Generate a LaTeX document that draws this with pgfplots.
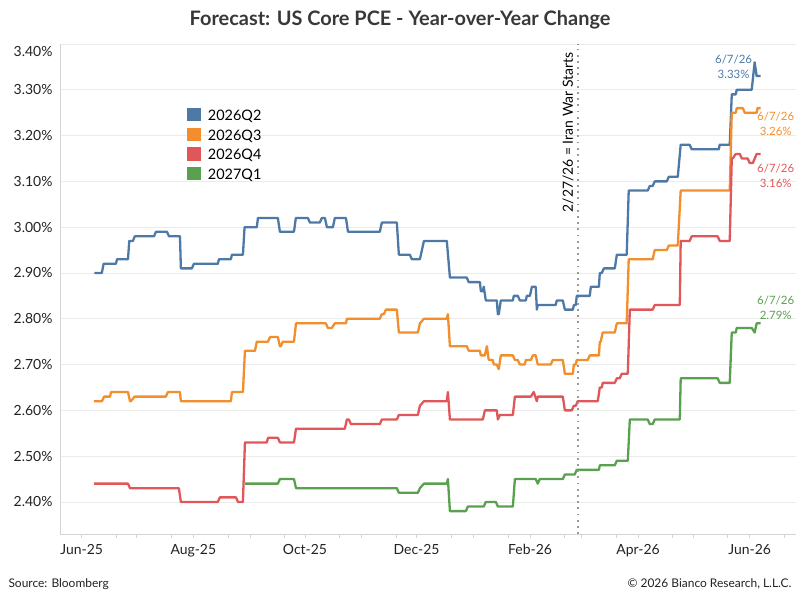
\documentclass[border=0pt]{standalone}
\usepackage{pgfplots}
\pgfplotsset{compat=1.18}
\usepackage{fontspec}
\setmainfont{Lato}
\definecolor{qblue}{HTML}{4E79A7}
\definecolor{qorange}{HTML}{F28E2B}
\definecolor{qred}{HTML}{E15759}
\definecolor{qgreen}{HTML}{59A14F}
\definecolor{gridc}{HTML}{EBEBEB}
\definecolor{axc}{HTML}{D4D4D4}
\definecolor{txt}{HTML}{222222}
\begin{document}
\begin{tikzpicture}
\path[use as bounding box] (0,0) rectangle (800bp,600bp);
\node[font=\fontsize{20}{22}\selectfont\bfseries, text=black!78] at (400bp,580bp) {Forecast: US Core PCE - Year-over-Year Change};
\node[anchor=west, font=\fontsize{12}{14}\selectfont, text=txt] at (5bp,16bp) {Source: Bloomberg};
\node[anchor=east, font=\fontsize{12}{14}\selectfont, text=txt] at (795bp,16bp) {\textcopyright{} 2026 Bianco Research, L.L.C.};
\begin{axis}[
  at={(60bp,66bp)}, anchor=south west,
  scale only axis, width=736bp, height=490bp,
  xmin=-11.85, xmax=390.3, ymin=2.33, ymax=3.40,
  axis lines*=left,
  axis line style={draw=axc, line width=0.8bp},
  ymajorgrids, grid style={draw=gridc, line width=0.8bp},
  ytick={2.4,2.5,2.6,2.7,2.8,2.9,3.0,3.1,3.2,3.3,3.4},
  yticklabels={2.40\%,2.50\%,2.60\%,2.70\%,2.80\%,2.90\%,3.00\%,3.10\%,3.20\%,3.30\%,},
  extra y ticks={3.4},
  extra y tick labels={3.40\%},
  extra y tick style={ymajorgrids=false, yticklabel style={yshift=-8bp}},
  ytick style={draw=none},
  xtick={0,30,61,92,122,153,183,214,245,273,304,334,365},
  xticklabels={Jun-25,,Aug-25,,Oct-25,,Dec-25,,Feb-26,,Apr-26,,Jun-26},
  minor xtick={-12,19,49,80,111,141,172,202,233,264,292,323,353,384},
  tick align=outside, major tick length=4bp, minor tick length=4bp,
  xtick style={draw=axc, line width=0.8bp},
  minor tick style={draw=axc, line width=0.8bp},
  /pgf/number format/assume math mode=true,
  ticklabel style={font=\fontsize{14}{16}\selectfont, text=txt},
  xticklabel style={yshift=-3bp},
  legend style={at={(0.172,0.87)}, anchor=north west, draw=none, fill=none,
    font=\fontsize{14.5}{16}\selectfont, row sep=4.2bp, inner sep=0pt,
    nodes={inner sep=1.5bp}},
  legend cell align=left,
  legend image code/.code={\fill[#1, draw=none] (0bp,-5.5bp) rectangle (14bp,8bp); \path (18.5bp,0bp);},
  every axis plot/.append style={line width=2.3bp, line join=round},
]
\addplot[qblue] coordinates {
(7,2.90) (11,2.90) (12,2.92) (18.7,2.92) (19.3,2.93) (25.3,2.93) (26,2.97) (28,2.97) (29,2.98) (39.5,2.98) (40.6,2.99) (46.6,2.99) (47.7,2.98) (53.7,2.98) (54.2,2.91) (60.2,2.91) (61.3,2.92) (74.4,2.92) (75,2.93) (81.5,2.93) (82.1,2.94) (88.1,2.94) (89,3.00) (95.7,3.00) (96.3,3.02) (107.2,3.02) (108.3,2.99) (116,2.99) (117,3.02) (123.6,3.02) (124.7,3.01) (130.1,3.01) (131.2,3.02) (132.9,3.02) (134,3.00) (137.3,3.00) (138.3,3.02) (144.4,3.02) (145.5,2.99) (162.9,2.99) (164,3.01) (172.2,3.01) (173.3,2.94) (179.3,2.94) (180.4,2.93) (184.8,2.93) (185.9,2.95) (187,2.97) (199.5,2.97) (201.2,2.89) (210.4,2.89) (211.5,2.88) (217.6,2.88) (218.1,2.86) (219.2,2.86) (219.7,2.87) (220.8,2.84) (226.8,2.84) (227.4,2.81) (227.9,2.81) (229,2.84) (235.6,2.84) (236.1,2.85) (238.3,2.85) (239.4,2.84) (242.7,2.84) (243.2,2.85) (244.9,2.85) (246,2.87) (248.1,2.87) (248.7,2.82) (249.2,2.83) (259,2.83) (259.6,2.84) (262.9,2.84) (264,2.82) (268.4,2.82) (268.9,2.83) (270,2.83) (270.5,2.85) (277.6,2.85) (278.2,2.87) (282.6,2.87) (283.1,2.90) (284.2,2.90) (285.3,2.91) (291.3,2.91) (292.4,2.94) (297.8,2.94) (298.9,3.08) (309.3,3.08) (310.4,3.09) (312,3.09) (313.1,3.10) (319.7,3.10) (320.8,3.11) (325.7,3.11) (327.3,3.18) (332.2,3.18) (333.3,3.17) (348.1,3.17) (348.6,3.18) (354.1,3.18) (355.2,3.29) (357.4,3.29) (357.9,3.30) (366.1,3.30) (367.7,3.36) (368.8,3.33) (371,3.33)
};
\addlegendentry{2026Q2}
\addplot[qorange] coordinates {
(6.7,2.62) (11.1,2.62) (12.2,2.63) (15.5,2.63) (16,2.64) (25.3,2.64) (26.4,2.62) (26.9,2.62) (28.9,2.63) (46,2.63) (47.1,2.64) (53.7,2.64) (54.2,2.62) (81.5,2.62) (82.1,2.64) (88.1,2.64) (89.2,2.73) (94.7,2.73) (95.7,2.75) (101.8,2.75) (102.9,2.76) (107.2,2.76) (108.3,2.74) (108.8,2.74) (109.9,2.75) (116,2.75) (117.1,2.79) (133.4,2.79) (134.5,2.78) (136.7,2.78) (138.3,2.79) (144.4,2.79) (144.9,2.80) (162.9,2.80) (164,2.81) (165.1,2.81) (166.2,2.82) (172.2,2.82) (173.3,2.77) (183.7,2.77) (184.8,2.79) (187,2.80) (199.5,2.80) (200.1,2.81) (201.2,2.74) (210.4,2.74) (211.5,2.73) (217.6,2.73) (218.1,2.72) (220.3,2.72) (221.4,2.74) (222.4,2.71) (224.6,2.71) (225.2,2.70) (226.8,2.70) (227.9,2.69) (229,2.72) (235.6,2.72) (236.7,2.71) (238.3,2.71) (239.4,2.70) (242.1,2.70) (242.7,2.71) (245.4,2.71) (246.5,2.72) (248.1,2.72) (249.2,2.70) (256.3,2.70) (257.4,2.71) (262.9,2.71) (264,2.68) (268.4,2.68) (268.9,2.70) (270,2.70) (270.5,2.71) (276.5,2.71) (277.6,2.72) (282.6,2.72) (283.1,2.75) (283.6,2.75) (284.7,2.77) (291.3,2.77) (292.4,2.79) (297.8,2.79) (298.9,2.93) (312,2.93) (313.1,2.95) (319.7,2.95) (320.8,2.96) (325.7,2.96) (327.3,3.08) (354.1,3.08) (355.2,3.25) (357.4,3.25) (357.9,3.26) (361.2,3.26) (362.3,3.25) (368.8,3.25) (369.3,3.26) (371,3.26)
};
\addlegendentry{2026Q3}
\addplot[qred] coordinates {
(6.7,2.44) (25.3,2.44) (26.4,2.43) (53.1,2.43) (54.2,2.40) (74.4,2.40) (75.5,2.41) (84.3,2.41) (85.4,2.40) (88.1,2.40) (89.2,2.53) (101.2,2.53) (101.8,2.54) (107.2,2.54) (108.3,2.53) (116,2.53) (117.1,2.56) (143.8,2.56) (144.9,2.58) (146,2.58) (147.1,2.57) (162.9,2.57) (164,2.58) (172.2,2.58) (173.3,2.59) (183.7,2.59) (184.8,2.61) (187,2.62) (199.5,2.62) (200.1,2.64) (201.2,2.58) (219.2,2.58) (220.3,2.60) (226.8,2.60) (227.4,2.58) (228.5,2.59) (235.6,2.59) (236.7,2.63) (245.4,2.63) (247,2.64) (248.7,2.62) (249.2,2.63) (262.9,2.63) (264,2.60) (267.8,2.60) (268.9,2.61) (270,2.61) (271,2.62) (282,2.62) (283.1,2.65) (284.2,2.65) (284.7,2.66) (291.3,2.66) (292.4,2.67) (294,2.67) (295.1,2.68) (298.4,2.68) (299.5,2.82) (312,2.82) (313.1,2.83) (326.8,2.83) (327.3,2.97) (332.2,2.97) (333.3,2.98) (347.5,2.98) (348.6,2.97) (354.1,2.97) (355.2,3.15) (355.7,3.15) (357.4,3.16) (359.6,3.16) (360.7,3.15) (363.9,3.15) (365,3.14) (366.7,3.14) (368.8,3.16) (371,3.16)
};
\addlegendentry{2026Q4}
\addplot[qgreen] coordinates {
(89.2,2.44) (107.2,2.44) (108.3,2.45) (116,2.45) (117.1,2.43) (172.2,2.43) (173.3,2.42) (183.7,2.42) (184.8,2.43) (187,2.44) (199.5,2.44) (200.1,2.45) (201.2,2.38) (209.9,2.38) (211,2.39) (219.7,2.39) (220.8,2.40) (226.3,2.40) (227.4,2.39) (235.6,2.39) (236.7,2.45) (248.1,2.45) (249.2,2.44) (250.3,2.45) (262.9,2.45) (264,2.46) (269.4,2.46) (270.5,2.47) (282.6,2.47) (283.1,2.48) (291.3,2.48) (292.4,2.49) (298.4,2.49) (299.5,2.58) (309.3,2.58) (310.4,2.57) (312,2.57) (313.1,2.58) (326.8,2.58) (327.3,2.67) (347.5,2.67) (348.6,2.66) (354.1,2.66) (355.2,2.77) (357.4,2.77) (357.9,2.78) (366.1,2.78) (367.7,2.77) (368.8,2.79) (371,2.79)
};
\addlegendentry{2027Q1}
\addplot[forget plot, draw=black!40, line width=1.8bp, dash pattern=on 1.8bp off 4.4bp] coordinates {(271,2.33) (271,3.40)};
\node[rotate=90, font=\fontsize{14}{16}\selectfont, text=black] at (axis cs:265.8,3.207) {2/27/26 = Iran War Starts};
\node[align=center, font=\fontsize{11.5}{15}\selectfont, text=qblue] at (axis cs:356.2,3.351) {6/7/26\\3.33\%};
\node[align=center, font=\fontsize{11.5}{15}\selectfont, text=qorange] at (axis cs:379.2,3.226) {6/7/26\\3.26\%};
\node[align=center, font=\fontsize{11.5}{15}\selectfont, text=qred] at (axis cs:379.2,3.113) {6/7/26\\3.16\%};
\node[align=center, font=\fontsize{11.5}{15}\selectfont, text=qgreen] at (axis cs:379.2,2.824) {6/7/26\\2.79\%};
\end{axis}
\end{tikzpicture}
\end{document}
